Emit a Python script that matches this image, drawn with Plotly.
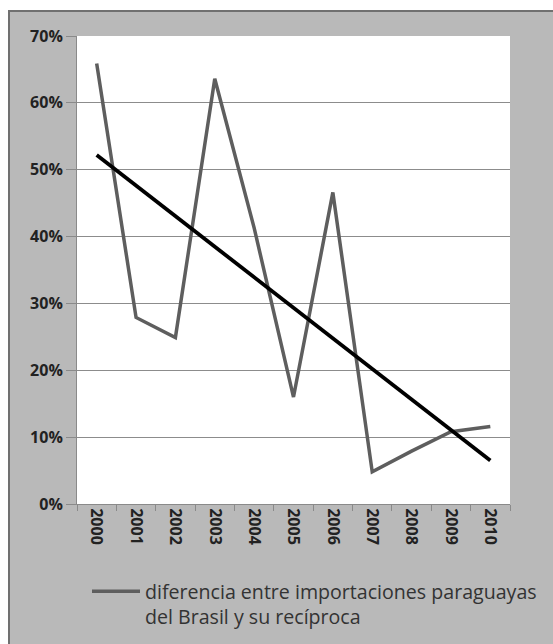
import plotly.graph_objects as go

years = ["2000", "2001", "2002", "2003", "2004", "2005", "2006", "2007", "2008", "2009", "2010"]
diferencia = [0.659, 0.279, 0.249, 0.636, 0.413, 0.160, 0.466, 0.048, 0.079, 0.108, 0.116]
trend_years = ["2000", "2010"]
trend_values = [0.522, 0.065]
series_name = "diferencia entre importaciones paraguayas<br>del Brasil y su recíproca"
y_ticks = [0, 0.1, 0.2, 0.3, 0.4, 0.5, 0.6, 0.7]

W, H = 553, 644
L, R, T, B = 77, 510, 36, 504

def px_x(p):
    return (p - L) / (R - L)

def px_y(p):
    return (B - p) / (B - T)

fig = go.Figure()
fig.add_trace(go.Scatter(
    x=years, y=diferencia, mode="lines", name=series_name,
    line=dict(color="#5e5e5e", width=3.5), showlegend=True))
fig.add_trace(go.Scatter(
    x=trend_years, y=trend_values, mode="lines", name="tendencia",
    line=dict(color="#000000", width=3.8), showlegend=False))

gray_bg = "#b9b9b9"
tick_font = dict(family="Open Sans", size=16, weight="bold", color="#222222")
fig.update_layout(
    width=W, height=H,
    margin=dict(l=L, r=W - R, t=T, b=H - B, autoexpand=False),
    paper_bgcolor=gray_bg, plot_bgcolor="#ffffff",
    font=dict(family="Open Sans", color="#222222"),
    xaxis=dict(
        type="category", categoryorder="array", categoryarray=years,
        range=[-0.5, 10.5], showgrid=False, showline=True, linecolor="#8a8a8a", linewidth=1,
        ticks="outside", tickson="boundaries", ticklen=6, tickcolor="#8a8a8a",
        tickangle=90, tickfont=tick_font,
        zeroline=False, fixedrange=True),
    yaxis=dict(
        range=[0, 0.7], tickvals=y_ticks, tickformat=".0%",
        showgrid=True, gridcolor="#8c8c8c", gridwidth=1,
        showline=True, linecolor="#8a8a8a", linewidth=1,
        ticks="outside", ticklen=10, tickcolor="#8a8a8a",
        tickfont=tick_font,
        zeroline=False, fixedrange=True),
    legend=dict(
        x=px_x(87), y=px_y(572), xanchor="left", yanchor="top",
        bgcolor="rgba(0,0,0,0)", valign="top", itemwidth=48,
        font=dict(family="Open Sans", size=19.6, color="#333333")),
    shapes=[
        dict(type="rect", xref="paper", yref="paper", x0=px_x(-5), x1=px_x(8), y0=px_y(H + 5), y1=px_y(-5),
             fillcolor="#ffffff", line=dict(width=0), layer="above"),
        dict(type="rect", xref="paper", yref="paper", x0=px_x(-5), x1=px_x(W + 5), y0=px_y(10), y1=px_y(-5),
             fillcolor="#ffffff", line=dict(width=0), layer="above"),
        dict(type="rect", xref="paper", yref="paper", x0=px_x(9), x1=px_x(W + 10), y0=px_y(H + 10), y1=px_y(11),
             fillcolor="rgba(0,0,0,0)", line=dict(color="#707070", width=2), layer="above"),
    ],
)

fig.write_html("out.html")
